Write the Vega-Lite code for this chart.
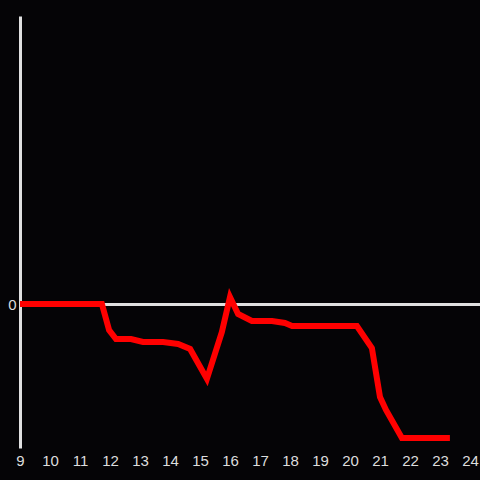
{
  "$schema": "https://vega.github.io/schema/vega-lite/v6.json",
  "width": 460,
  "height": 432,
  "autosize": "none",
  "padding": {"left": 20, "top": 16, "right": 0, "bottom": 32},
  "background": "#050406",
  "config": {
    "view": {"stroke": null},
    "axis": {"labelFont": "Liberation Sans", "labelFontSize": 15, "labelColor": "#dddddd"}
  },
  "data": {
    "values": [
      {"x": 9.0, "y": 0},
      {"x": 11.73, "y": 0},
      {"x": 11.97, "y": -0.181},
      {"x": 12.2, "y": -0.243},
      {"x": 12.7, "y": -0.243},
      {"x": 13.1, "y": -0.264},
      {"x": 13.77, "y": -0.264},
      {"x": 14.27, "y": -0.278},
      {"x": 14.67, "y": -0.312},
      {"x": 15.23, "y": -0.52},
      {"x": 15.73, "y": -0.194},
      {"x": 16.0, "y": 0.049},
      {"x": 16.27, "y": -0.069},
      {"x": 16.73, "y": -0.118},
      {"x": 17.4, "y": -0.118},
      {"x": 17.83, "y": -0.132},
      {"x": 18.07, "y": -0.153},
      {"x": 20.23, "y": -0.153},
      {"x": 20.73, "y": -0.306},
      {"x": 21.0, "y": -0.646},
      {"x": 21.2, "y": -0.736},
      {"x": 21.73, "y": -0.93},
      {"x": 23.33, "y": -0.93}
    ]
  },
  "mark": {"type": "line", "color": "#ff0000", "strokeWidth": 6, "strokeJoin": "miter", "strokeCap": "butt", "clip": true},
  "encoding": {
    "x": {
      "field": "x", "type": "quantitative",
      "scale": {"domain": [9, 24.3333], "nice": false, "zero": false},
      "axis": {"title": null, "domain": false, "ticks": false, "grid": false, "values": [9,10,11,12,13,14,15,16,17,18,19,20,21,22,23,24], "labelPadding": 5, "labelFlush": false, "labelOverlap": false}
    },
    "y": {
      "field": "y", "type": "quantitative",
      "scale": {"domain": [-1, 2], "nice": false},
      "axis": {"title": null, "values": [0], "ticks": false, "domain": true, "domainColor": "#e0e0e0", "domainWidth": 3, "grid": true, "gridColor": "#e0e0e0", "gridWidth": 3, "gridOpacity": 1, "labelPadding": 4}
    }
  }
}
